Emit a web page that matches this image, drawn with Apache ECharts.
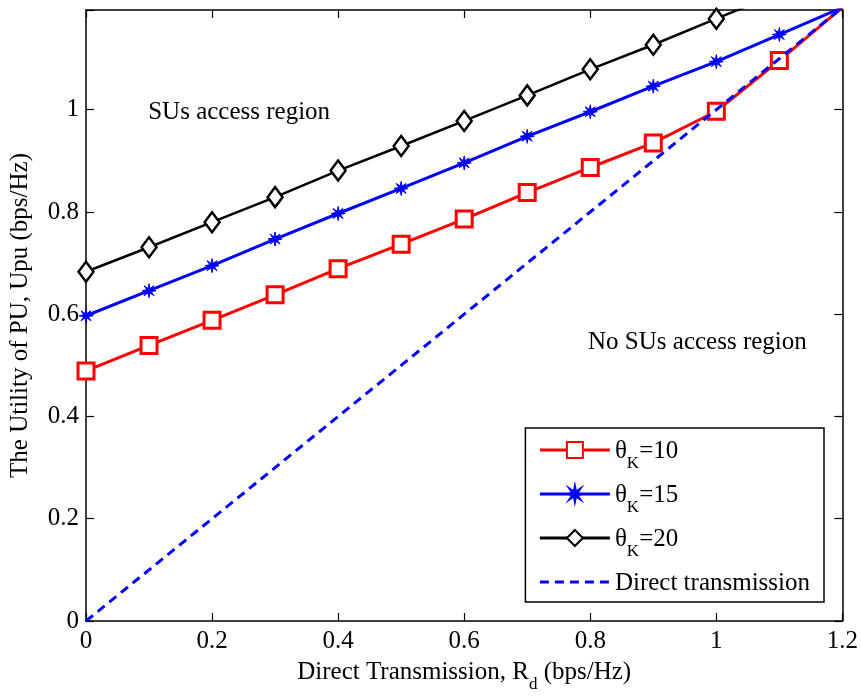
<!DOCTYPE html>
<html><head><meta charset="utf-8">
<script src="https://cdn.jsdelivr.net/npm/echarts@6/dist/echarts.min.js"></script>
<style>html,body{margin:0;padding:0;background:#fff}#c{width:861px;height:698px}</style>
</head><body><div id="c"></div>
<script>
const xValues = [0, 0.1, 0.2, 0.3, 0.4, 0.5, 0.6, 0.7, 0.8, 0.9, 1.0, 1.1, 1.2];
const theta10 = [0.489, 0.539, 0.588, 0.638, 0.689, 0.737, 0.786, 0.838, 0.887, 0.935, 0.997, 1.096, 1.2];
const theta15 = [0.597, 0.646, 0.695, 0.747, 0.797, 0.846, 0.896, 0.948, 0.996, 1.046, 1.094, 1.147, 1.2];
const theta20 = [0.683, 0.731, 0.780, 0.829, 0.881, 0.929, 0.978, 1.028, 1.079, 1.127, 1.178, 1.228, 1.277];
const directX = [0, 1.2];
const directY = [0, 1.2];
const seriesNames = ['θK=10', 'θK=15', 'θK=20', 'Direct transmission'];
const annotations = [
  {text: 'SUs access region', x: 0.243, y: 0.995},
  {text: 'No SUs access region', x: 0.97, y: 0.545}
];
const xTicks = {min: 0, max: 1.2, interval: 0.2};
const yTicks = {min: 0, max: 1.195, interval: 0.2};

const font = 'Liberation Serif, Times New Roman, serif';
const FS = 25;
const zip = (xs, ys) => xs.map((x, i) => [x, ys[i]]);
const fmt = v => {
  const r = Math.round(v / 0.2) * 0.2;
  if (Math.abs(r - v) > 1e-6) return '';
  return String(+v.toFixed(1));
};
const star = 'path://M12,0 L13.6,8.2 L20.5,3.5 L15.8,10.4 L24,12 L15.8,13.6 L20.5,20.5 L13.6,15.8 L12,24 L10.4,15.8 L3.5,20.5 L8.2,13.6 L0,12 L8.2,10.4 L3.5,3.5 L10.4,8.2 Z';
const richText = {
  a: {fontFamily: font, fontSize: FS, color: '#000', lineHeight: 28, verticalAlign: 'bottom'},
  s: {fontFamily: font, fontSize: 17, color: '#000', lineHeight: 28, verticalAlign: 'bottom', padding: [0, 0, -8, 0]}
};

const chart = echarts.init(document.getElementById('c'), null, {renderer: 'canvas'});
const axisCommon = {
  axisLine: {show: true, onZero: false, lineStyle: {color: '#000', width: 1.5}},
  axisTick: {show: true, inside: true, length: 8, lineStyle: {color: '#000', width: 1.2}},
  splitLine: {show: false}
};
chart.setOption({
  backgroundColor: '#fff',
  animation: false,
  textStyle: {fontFamily: font},
  grid: {left: 86, right: 15, top: 10, bottom: 72, containLabel: false},
  xAxis: [
    Object.assign({type: 'value', position: 'bottom', min: xTicks.min, max: xTicks.max, interval: xTicks.interval,
      name: '{a|Direct Transmission, R}{s|d}{a| (bps/Hz)}', nameLocation: 'middle', nameGap: 36,
      nameTextStyle: {rich: richText},
      axisLabel: {fontFamily: font, fontSize: FS, color: '#000', margin: 8, formatter: fmt}}, axisCommon),
    Object.assign({type: 'value', position: 'top', min: xTicks.min, max: xTicks.max, interval: xTicks.interval,
      axisLabel: {show: false}}, axisCommon)
  ],
  yAxis: [
    Object.assign({type: 'value', position: 'left', min: yTicks.min, max: yTicks.max, interval: yTicks.interval,
      name: 'The Utility of PU, Upu (bps/Hz)', nameLocation: 'middle', nameGap: 53,
      nameTextStyle: {fontFamily: font, fontSize: FS, color: '#000'},
      axisLabel: {fontFamily: font, fontSize: FS, color: '#000', margin: 7, formatter: fmt}}, axisCommon),
    Object.assign({type: 'value', position: 'right', min: yTicks.min, max: yTicks.max, interval: yTicks.interval,
      axisLabel: {show: false}}, axisCommon)
  ],
  legend: {
    orient: 'vertical', right: 37, bottom: 96,
    backgroundColor: '#fff', borderColor: '#000', borderWidth: 1.5,
    padding: [11, 14, 6, 13],
    itemWidth: 70, itemHeight: 20, itemGap: 11,
    data: [
      {name: seriesNames[0], lineStyle: {width: 3}},
      {name: seriesNames[1], lineStyle: {width: 3}},
      {name: seriesNames[2], lineStyle: {width: 3}},
      {name: seriesNames[3], itemStyle: {opacity: 0}, lineStyle: {width: 3}}
    ],
    formatter: function (name) {
      if (name.indexOf('θK=') === 0) return '{a|θ}{s|K}{a|' + name.slice(2) + '}';
      return '{a|' + name + '}';
    },
    textStyle: {rich: richText}
  },
  series: [
    {name: seriesNames[0], type: 'line', data: zip(xValues, theta10), symbol: 'rect', symbolSize: 16, z: 2,
      lineStyle: {color: '#ff0000', width: 3}, itemStyle: {color: '#fff', borderColor: '#ff0000', borderWidth: 3}},
    {name: seriesNames[1], type: 'line', data: zip(xValues, theta15), symbol: star, symbolSize: 14, z: 3,
      lineStyle: {color: '#0000ff', width: 3}, itemStyle: {color: '#0000ff', borderColor: '#0000ff', borderWidth: 1}},
    {name: seriesNames[2], type: 'line', data: zip(xValues, theta20), symbol: 'diamond', symbolSize: [15, 20], z: 4,
      lineStyle: {color: '#000', width: 2.5}, itemStyle: {color: '#fff', borderColor: '#000', borderWidth: 2.5}},
    {name: seriesNames[3], type: 'line', data: zip(directX, directY), symbol: 'none', z: 5,
      lineStyle: {color: '#0000ff', width: 3, type: [9, 6]}, itemStyle: {color: '#0000ff'}},
    {name: 'annotations', type: 'scatter', data: annotations.map(a => ({value: [a.x, a.y], name: a.text})),
      symbolSize: 0, silent: true, z: 6, itemStyle: {opacity: 1},
      label: {show: true, position: 'inside', formatter: p => p.name, fontFamily: font, fontSize: FS, color: '#000', opacity: 1}}
  ]
});
</script></body></html>
